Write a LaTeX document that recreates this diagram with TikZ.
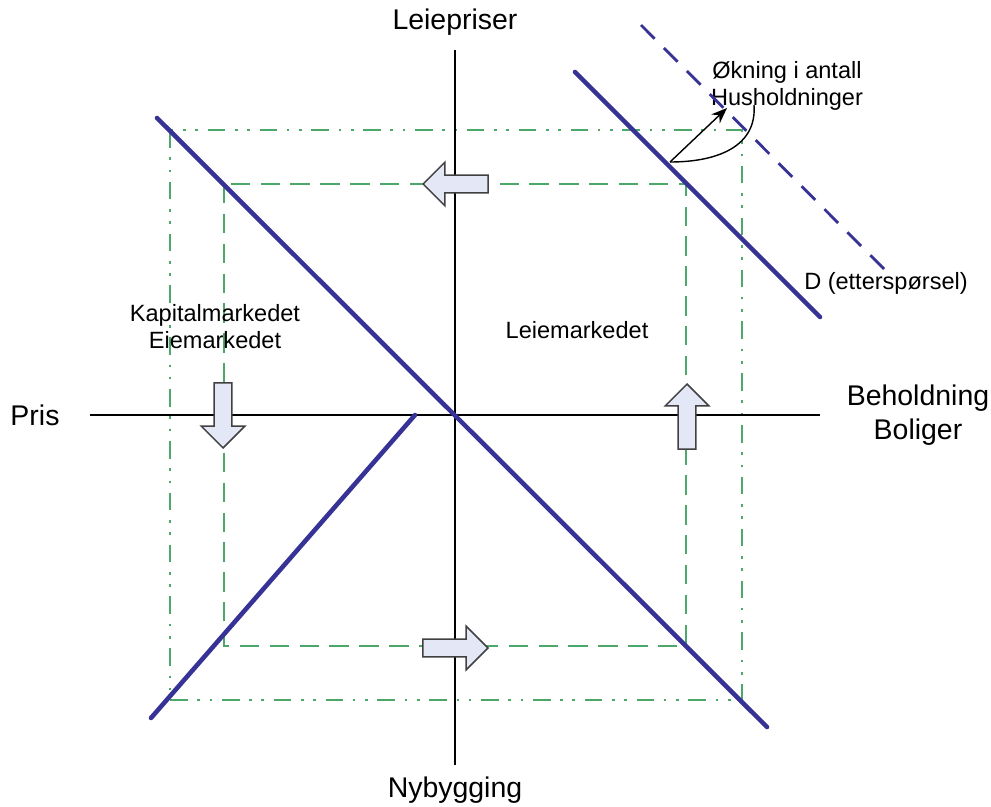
\documentclass[tikz,border=0pt]{standalone}
\usepackage{fontspec}
\setmainfont{Liberation Sans}
\usepackage{tikz}
\usetikzlibrary{arrows.meta, positioning, shapes.arrows}
\definecolor{kurveblaa}{RGB}{55,50,150}
\definecolor{rammegronn}{RGB}{75,168,105}
\definecolor{pilfyll}{RGB}{228,232,246}

\begin{document}
\begin{tikzpicture}[x=0.02cm, y=-0.02cm,
    akse/.style={line width=0.8pt},
    kurve/.style={kurveblaa, line width=2.6pt, line cap=round},
    ytre/.style={rammegronn, line width=1.3pt, dash pattern=on 10pt off 5.5pt on 1.5pt off 5.5pt on 1.5pt off 5.5pt},
    indre/.style={rammegronn, line width=1.3pt, dash pattern=on 11pt off 6pt},
    blokkpil/.style={single arrow, draw=black!75, fill=pilfyll, line width=0.9pt, minimum height=37pt, inner sep=0pt, inner ysep=4.6pt, single arrow head extend=7.3pt, anchor=tip},
    stor/.style={font=\fontsize{16.2}{19.3}\selectfont, align=center},
    liten/.style={font=\fontsize{13.4}{15.3}\selectfont, align=center}]
    \useasboundingbox (0,0) rectangle (991,807);
    \draw[ytre] (170,130) rectangle (742,700); %ytre ramme
    \draw[indre] (224,184) rectangle (686,646); %indre ramme
    \coordinate (ytopp) at (455,50);
    \coordinate (ybunn) at (455,765);
    \coordinate (xvenstre) at (90,415);
    \coordinate (xhoyre) at (820,415);
    \draw[akse] (ytopp) -- (ybunn); %y-akse
    \draw[akse] (xvenstre) -- (xhoyre); %x-akse
    \node[stor] (leiepriser) at (455,22) {Leiepriser};
    \node[stor] (nybygging) at (455,790) {Nybygging};
    \node[stor] (pris) at (35,415) {Pris};
    \node[stor] (beholdning) at (918,415) {Beholdning\\Boliger};
    \node[liten] (kapital) at (215,327) {Kapitalmarkedet\\Eiemarkedet};
    \node[liten] (leie) at (577,330) {Leiemarkedet};
    \node[liten] (dtekst) at (886,283) {D (etterspørsel)};
    \node[liten] (okning) at (787,86) {Økning i antall\\Husholdninger};
    \draw[kurve] (157,118) -- (767,727); %diagonal
    \draw[kurve] (151,718) -- (415,415); %nybygging
    \draw[kurve] (575,72) -- (820,317); %etterspørsel
    \draw[kurve, line width=1.6pt, line cap=butt, dash pattern=on 11pt off 7.5pt] (641,25) -- (885,270); %ny etterspørsel
    \coordinate (start) at (670,162);
    \draw[-{Stealth[length=9pt, width=7pt]}, line width=0.8pt] (start) -- (727,108);
    \draw[line width=0.8pt] (start) .. controls (720,162) and (757,145) .. (754,105);
    \node[blokkpil, rotate=180] (venstrepil) at (422,184) {};
    \node[blokkpil, rotate=-90] (nedpil) at (223,449) {};
    \node[blokkpil, rotate=90] (opppil) at (687,383) {};
    \node[blokkpil] (hoyrepil) at (489,648) {};
\end{tikzpicture}
\end{document}
